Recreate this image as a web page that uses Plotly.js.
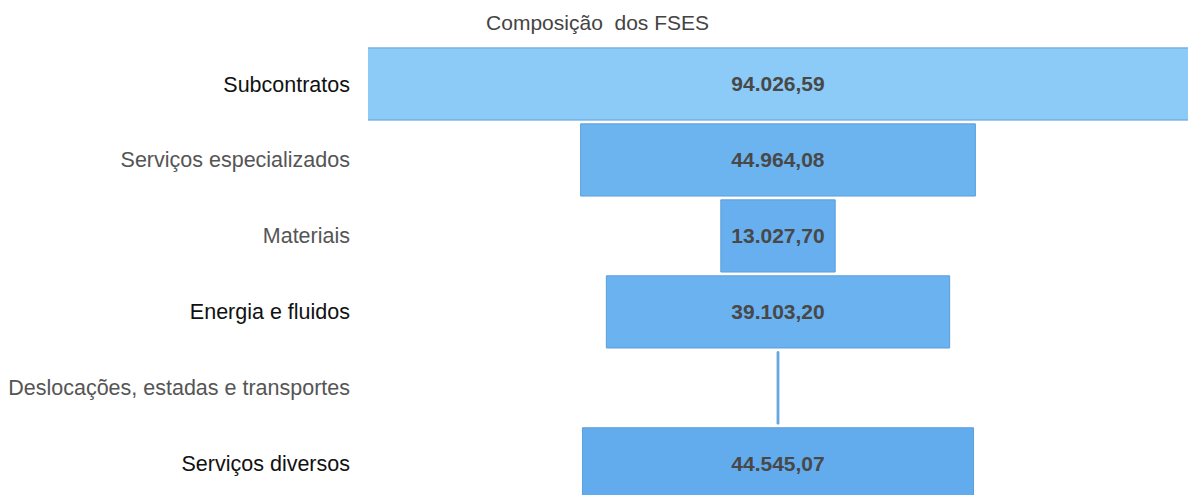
<!DOCTYPE html>
<html>
<head>
<meta charset="utf-8">
<script src="https://cdn.plot.ly/plotly-3.0.1.min.js"></script>
<style>
  html, body { margin: 0; padding: 0; background: #fff; }
  #chart { width: 1188px; height: 495px; }
</style>
</head>
<body>
<div id="chart"></div>
<script>
const categories = [
  'Subcontratos',
  'Serviços especializados',
  'Materiais',
  'Energia e fluidos',
  'Deslocações, estadas e transportes',
  'Serviços diversos'
];
const values = [94026.59, 44964.08, 13027.70, 39103.20, 200, 44545.07];
const labelColors = ['#111', '#555', '#555', '#111', '#555', '#111'];
const barColors = ['#8ccbf7', '#6cb4f0', '#68aff0', '#6ab2f0', '#6aaee8', '#62acee'];

const ticktext = categories.map((c, i) => `<span style="color:${labelColors[i]}">${c}</span>`);

const data = [{
  type: 'funnel',
  y: categories,
  x: values,
  texttemplate: '<b>%{value:,.2f}</b>',
  textposition: values.map(v => v < 1000 ? 'none' : 'inside'),
  insidetextanchor: 'middle',
  textfont: { family: 'Liberation Sans, Arial, sans-serif', size: 21, color: '#484848' },
  marker: { color: barColors, line: { color: '#5b9fdb', width: 1 } },
  connector: { visible: false },
  hoverinfo: 'none'
}];

const layout = {
  width: 1188,
  height: 495,
  separators: ',.',
  title: {
    text: 'Composição  dos FSES',
    x: 0.503,
    xanchor: 'center',
    y: 0.955,
    yanchor: 'middle',
    font: { family: 'Liberation Sans, Arial, sans-serif', size: 21, color: '#444' }
  },
  margin: { l: 368, r: 0, t: 46, b: 0 },
  xaxis: { range: [-46700, 46700], visible: false, showgrid: false, zeroline: false },
  yaxis: {
    range: [5.41, -0.5],
    tickvals: categories,
    ticktext: ticktext,
    ticklabelstandoff: 17,
    tickfont: { family: 'Liberation Sans, Arial, sans-serif', size: 21.5 },
    showgrid: false,
    zeroline: false,
    showline: false
  },
  funnelgap: 0.05,
  showlegend: false,
  paper_bgcolor: '#fff',
  plot_bgcolor: '#fff'
};

Plotly.newPlot('chart', data, layout, { displayModeBar: false, staticPlot: true });
</script>
</body>
</html>
